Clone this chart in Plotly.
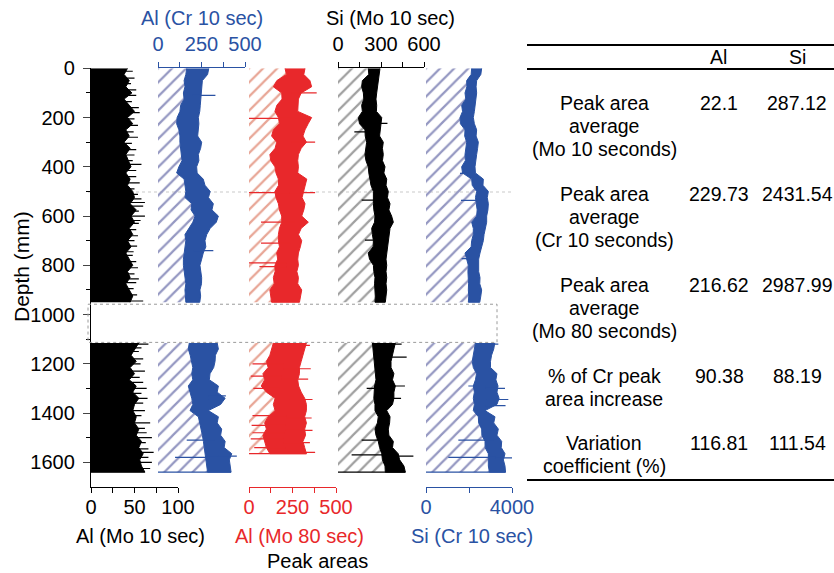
import plotly.graph_objects as go

W, H = 834, 573

# ---------------- data ----------------
DEPTH_UP = [0, 25, 50, 75, 100, 125, 150, 175, 200, 225, 250, 275, 300, 325, 350, 375, 400, 425, 450, 475,
            500, 525, 550, 575, 600, 625, 650, 675, 700, 725, 750, 775, 800, 825, 850, 875, 900, 925, 950]
DEPTH_LOW = [1115, 1140, 1165, 1190, 1215, 1240, 1265, 1290, 1315, 1340, 1365, 1390, 1415, 1440, 1465,
             1490, 1515, 1540, 1565, 1590, 1615, 1640]
DEPTH_LOW_RED = [1115, 1140, 1165, 1190, 1215, 1240, 1265, 1290, 1315, 1340, 1365, 1390, 1415, 1440, 1465,
                 1490, 1515, 1540, 1565]
GAP = [958, 1113]
MARK_DEPTH = 502

# Al (Mo 10 sec) - outer edge of black area
ALMO10_UP = [42, 38, 44, 40, 47, 38, 44, 50, 42, 48, 40, 44, 38, 45, 40, 43, 46, 40, 45, 42,
             48, 50, 45, 52, 46, 50, 44, 48, 42, 46, 40, 44, 48, 42, 45, 40, 44, 48, 45]
ALMO10_LOW = [55, 50, 46, 52, 45, 50, 44, 52, 48, 55, 50, 48, 52, 50, 55, 52, 58, 55, 60, 56, 58, 62]
ALMO10_SPK_D = [12, 40, 62, 88, 110, 135, 160, 180, 205, 232, 258, 280, 305, 330, 352, 375, 390, 415, 440,
                465, 490, 512, 530, 545, 560, 580, 600, 618, 630, 655, 680, 700, 722, 745, 760, 785, 810,
                835, 855, 870, 895, 920, 945,
                1120, 1135, 1150, 1180, 1200, 1230, 1255, 1275, 1300, 1320, 1340, 1360, 1390, 1410, 1440,
                1462, 1480, 1500, 1520, 1545, 1560, 1580, 1600, 1625]
ALMO10_SPK_V = [48, 50, 46, 52, 52, 47, 55, 56, 50, 54, 49, 54, 47, 52, 50, 48, 58, 52, 52,
                56, 50, 54, 58, 62, 60, 55, 62, 57, 55, 52, 54, 50, 53, 49, 48, 52, 54,
                50, 55, 52, 49, 53, 60,
                66, 58, 55, 60, 57, 62, 56, 60, 64, 58, 65, 60, 62, 58, 68,
                62, 64, 70, 63, 66, 72, 66, 70, 68]

# Al (Cr 10 sec) - band low / high
ALCR_UP_LO = [165, 160, 150, 155, 146, 150, 130, 126, 110, 107, 120, 126, 126, 130, 136, 138, 120, 107, 150, 155,
              160, 155, 194, 190, 213, 200, 175, 155, 160, 155, 150, 146, 146, 150, 155, 160, 155, 158, 160]
ALCR_UP_HI = [292, 285, 255, 250, 251, 245, 243, 240, 232, 235, 232, 228, 251, 245, 232, 235, 222, 225, 260, 270,
              300, 290, 318, 310, 347, 335, 300, 280, 270, 275, 260, 251, 241, 245, 251, 250, 241, 245, 240]
ALCR_LOW_LO = [180, 174, 185, 194, 200, 194, 200, 174, 185, 194, 200, 184, 232, 240, 251, 255, 261, 265, 270, 275, 280, 285]
ALCR_LOW_HI = [340, 347, 330, 328, 320, 299, 295, 347, 340, 386, 360, 289, 347, 340, 366, 360, 386, 380, 424, 410, 414, 420]
ALCR_SPK_D = [110, 740, 1330, 1345, 1510, 1575, 1580]
ALCR_SPK_V = [330, 318, 390, 380, 165, 453, 98]

# Al (Mo 80 sec)
RED_UP_LO = [207, 215, 160, 140, 188, 190, 160, 149, 169, 175, 140, 130, 159, 150, 120, 125, 149, 155, 169, 170,
             149, 155, 169, 175, 188, 188, 175, 169, 169, 175, 159, 165, 149, 150, 140, 145, 120, 125, 130]
RED_UP_HI = [322, 315, 350, 360, 300, 284, 284, 280, 360, 340, 322, 310, 330, 300, 284, 280, 284, 280, 332, 320,
             313, 305, 322, 315, 303, 341, 300, 284, 303, 295, 284, 280, 284, 275, 284, 280, 303, 295, 290]
RED_LOW_LO = [140, 130, 120, 100, 110, 80, 90, 70, 100, 150, 140, 150, 110, 90, 100, 80, 90, 100, 120]
RED_LOW_HI = [330, 320, 310, 300, 290, 290, 280, 285, 300, 320, 330, 330, 320, 330, 320, 325, 310, 320, 330]
RED_SPK_D = [100, 203, 300, 505, 505, 625, 710, 790, 805,
             1125, 1200, 1220, 1250, 1262, 1300, 1345, 1410, 1420, 1450, 1470, 1480, 1505, 1520, 1540, 1560]
RED_SPK_V = [389, 0, 380, 0, 380, 69, 69, 0, 60,
             350, 20, 355, 10, 340, 25, 365, 20, 360, 15, 365, 20, 10, 350, 30, 380]

# Si (Mo 10 sec)
SIMO_UP_LO = [211, 215, 170, 165, 177, 180, 165, 170, 142, 150, 188, 190, 200, 195, 188, 195, 211, 215, 223, 230,
              247, 245, 247, 250, 258, 255, 235, 240, 247, 245, 211, 220, 247, 250, 258, 255, 258, 260, 258]
SIMO_UP_HI = [293, 290, 281, 275, 270, 265, 270, 268, 305, 300, 293, 290, 316, 310, 316, 310, 328, 320, 340, 335,
              351, 345, 363, 355, 374, 386, 363, 355, 351, 345, 340, 335, 340, 335, 340, 335, 340, 335, 330]
SIMO_LOW_LO = [240, 245, 250, 250, 255, 265, 265, 255, 255, 250, 258, 258, 281, 275, 258, 265, 281, 290, 305, 310, 328, 330]
SIMO_LOW_HI = [400, 390, 380, 370, 370, 390, 380, 400, 390, 390, 380, 340, 363, 360, 351, 355, 386, 380, 420, 430, 460, 470]
SIMO_SPK_D = [224, 258, 535, 698, 1120, 1173, 1290, 1300, 1340, 1510, 1570, 1575]
SIMO_SPK_V = [345, 114, 165, 188, 444, 479, 467, 200, 440, 165, 95, 526]

# Si (Cr 10 sec)
SICR_UP_LO = [2124, 2100, 1891, 1900, 1814, 1850, 1659, 1700, 1581, 1600, 1814, 1800, 1891, 1850, 1814, 1830, 1659, 1700, 2124, 2150,
              2356, 2300, 2356, 2380, 2356, 2124, 2201, 2200, 2124, 2100, 1814, 1900, 1969, 1950, 1969, 1980, 1969, 1990, 1969]
SICR_UP_HI = [2589, 2550, 2356, 2330, 2356, 2300, 2279, 2250, 2201, 2250, 2356, 2330, 2434, 2400, 2356, 2300, 2279, 2300, 2667, 2650,
              2900, 2850, 2900, 2880, 2822, 2822, 2744, 2700, 2667, 2600, 2512, 2450, 2434, 2450, 2512, 2500, 2589, 2550, 2500]
SICR_LOW_LO = [2300, 2250, 2200, 2150, 2200, 2350, 2300, 2200, 2250, 2200, 2250, 2201, 2434, 2450, 2589, 2600, 2744, 2750, 2900, 2900, 2900, 2950]
SICR_LOW_HI = [3200, 3150, 3050, 3000, 3000, 3300, 3250, 3350, 3300, 3400, 3300, 2744, 3209, 3150, 3364, 3300, 3519, 3500, 3674, 3600, 3674, 3700]
SICR_SPK_D = [427, 536, 773, 1120, 1290, 1300, 1345, 1370, 1510, 1580, 1582]
SICR_SPK_V = [1581, 1628, 1659, 3364, 1969, 3674, 3829, 3700, 1504, 1038, 4194]

TABLE_COLS = ["Al", "Si"]
TABLE_ROWS = [["Peak area", "average", "(Mo 10 seconds)"],
              ["Peak area", "average", "(Cr 10 seconds)"],
              ["Peak area", "average", "(Mo 80 seconds)"],
              ["% of Cr peak", "area increase"],
              ["Variation", "coefficient (%)"]]
TABLE_AL = ["22.1", "229.73", "216.62", "90.38", "116.81"]
TABLE_SI = ["287.12", "2431.54", "2987.99", "88.19", "111.54"]

# ---------------- styling ----------------
FONT = "Arial, Liberation Sans, Helvetica, sans-serif"
BLUE = "#2a52a3"
RED = "#e8282b"
BLACK = "#000000"
HATCH_BLUE = "#9598c2"
HATCH_RED = "#e8a696"
HATCH_GRAY = "#a0a0a0"
FS = 20
TS = 19.5


def px(x):
    return x / W


def py(y):
    return 1 - y / H


fig = go.Figure()


def hatch_pattern(c):
    return dict(shape="/", fgcolor=c, size=10, solidity=0.22)


def add_band(xa, depth, lo, hi, color, hatch):
    fig.add_trace(go.Scatter(x=lo, y=depth, xaxis=xa, yaxis="y", mode="lines",
                             line=dict(width=0, color=hatch), fill="tozerox",
                             fillcolor="rgba(0,0,0,0)", fillpattern=hatch_pattern(hatch),
                             hoverinfo="skip", showlegend=False))
    fig.add_trace(go.Scatter(x=list(lo) + list(hi)[::-1], y=list(depth) + list(depth)[::-1],
                             xaxis=xa, yaxis="y", mode="lines", fill="toself", fillcolor=color,
                             line=dict(width=1, color=color), hoverinfo="skip", showlegend=False))


def add_spikes(xa, sections, spk_d, spk_v, color, from_zero=False):
    xs, ys = [], []
    for d, v in zip(spk_d, spk_v):
        if from_zero:
            start = 0
        else:
            best = None
            for depth, lo, hi in sections:
                for i, dd in enumerate(depth):
                    if best is None or abs(dd - d) < best[0]:
                        best = (abs(dd - d), (lo[i] + hi[i]) / 2)
            start = best[1]
        xs += [start, v, None]
        ys += [d, d, None]
    depth, lo, hi = sections[-1]
    xs += [0, hi[-1], None]
    ys += [depth[-1], depth[-1], None]
    fig.add_trace(go.Scatter(x=xs, y=ys, xaxis=xa, yaxis="y", mode="lines",
                             line=dict(width=1.2, color=color), hoverinfo="skip", showlegend=False))


for depth, vals in [(DEPTH_UP, ALMO10_UP), (DEPTH_LOW, ALMO10_LOW)]:
    fig.add_trace(go.Scatter(x=vals, y=depth, xaxis="x", yaxis="y", mode="lines",
                             line=dict(width=1, color=BLACK), fill="tozerox", fillcolor=BLACK,
                             hoverinfo="skip", showlegend=False))
add_spikes("x", [(DEPTH_UP, ALMO10_UP, ALMO10_UP), (DEPTH_LOW, ALMO10_LOW, ALMO10_LOW)],
           ALMO10_SPK_D, ALMO10_SPK_V, BLACK, from_zero=True)

series = [
    ("x2", [(DEPTH_UP, ALCR_UP_LO, ALCR_UP_HI), (DEPTH_LOW, ALCR_LOW_LO, ALCR_LOW_HI)], ALCR_SPK_D, ALCR_SPK_V, BLUE, HATCH_BLUE),
    ("x3", [(DEPTH_UP, RED_UP_LO, RED_UP_HI), (DEPTH_LOW_RED, RED_LOW_LO, RED_LOW_HI)], RED_SPK_D, RED_SPK_V, RED, HATCH_RED),
    ("x4", [(DEPTH_UP, SIMO_UP_LO, SIMO_UP_HI), (DEPTH_LOW, SIMO_LOW_LO, SIMO_LOW_HI)], SIMO_SPK_D, SIMO_SPK_V, BLACK, HATCH_GRAY),
    ("x5", [(DEPTH_UP, SICR_UP_LO, SICR_UP_HI), (DEPTH_LOW, SICR_LOW_LO, SICR_LOW_HI)], SICR_SPK_D, SICR_SPK_V, BLUE, HATCH_BLUE),
]
for xa, secs, sd, sv, col, hat in series:
    for depth, lo, hi in secs:
        add_band(xa, depth, lo, hi, col, hat)
    add_spikes(xa, secs, sd, sv, col)


def xaxis(dom, rng, side, color, tickvals, ticktext):
    return dict(domain=[px(dom[0]), px(dom[1])], range=rng, anchor="y", side=side,
                showline=True, linecolor=color, linewidth=1.3, ticks="outside", ticklen=5,
                tickwidth=1.3, tickcolor=color, tickvals=tickvals, ticktext=ticktext,
                tickfont=dict(size=FS, color=color, family=FONT), showgrid=False, zeroline=False,
                ticklabelstandoff=(3 if side == "top" else -3), automargin=False, fixedrange=True)


fig.update_layout(
    template="none",
    width=W, height=H, autosize=False,
    margin=dict(l=0, r=0, t=0, b=0, pad=0, autoexpand=False),
    paper_bgcolor="white", plot_bgcolor="rgba(0,0,0,0)",
    font=dict(family=FONT, size=FS, color="black"),
    showlegend=False,
    xaxis=xaxis((91, 178), [0, 100], "bottom", BLACK, [0, 25, 50, 75, 100], ["0", "", "50", "", "100"]),
    xaxis2=xaxis((158, 245), [0, 500], "top", BLUE, [0, 125, 250, 375, 500], ["0", "", "250", "", "500"]),
    xaxis3=xaxis((249, 336), [0, 500], "bottom", RED, [0, 125, 250, 375, 500], ["0", "", "250", "", "500"]),
    xaxis4=xaxis((338, 424), [0, 600], "top", BLACK, [0, 150, 300, 450, 600], ["0", "", "300", "", "600"]),
    xaxis5=xaxis((426, 512), [0, 4000], "bottom", BLUE, [0, 2000, 4000], ["0", "", "4000"]),
    yaxis=dict(domain=[py(486.7), py(68.3)], range=[1699, 0], anchor="x", showline=True,
               linecolor=BLACK, linewidth=1.3, ticks="outside", ticklen=7, tickwidth=1.3,
               tick0=0, dtick=200, tickfont=dict(size=20, color=BLACK, family=FONT),
               minor=dict(ticks="outside", ticklen=4, tickwidth=1.2, tickcolor=BLACK, dtick=100),
               showgrid=False, zeroline=False, ticklabelstandoff=4, automargin=False, fixedrange=True),
)

fig.add_shape(type="rect", xref="paper", yref="y", x0=px(88), x1=px(497), y0=GAP[0], y1=GAP[1],
              line=dict(color="#9a9a9a", width=1, dash="dot"), fillcolor="rgba(0,0,0,0)")
fig.add_shape(type="line", xref="paper", yref="y", x0=px(88), x1=px(512), y0=MARK_DEPTH, y1=MARK_DEPTH,
              line=dict(color="#dcdcdc", width=1.5, dash="dot"), layer="below")

ann = []


def text(x, y, s, color="black", size=FS, angle=0, xanchor="center"):
    ann.append(dict(x=px(x), y=py(y), xref="paper", yref="paper", text=s, showarrow=False,
                    font=dict(size=size, color=color, family=FONT), textangle=angle,
                    xanchor=xanchor, yanchor="middle"))


text(202, 18, "Al (Cr 10 sec)", BLUE)
text(390, 18, "Si (Mo 10 sec)", BLACK)
text(140, 536, "Al (Mo 10 sec)", BLACK)
text(299, 536, "Al (Mo 80 sec)", RED)
text(472, 536, "Si (Cr 10 sec)", BLUE)
text(317, 561, "Peak areas", BLACK)
text(21, 267, "Depth (mm)", BLACK, size=21, angle=-90)

for yy in (45, 69, 480):
    fig.add_shape(type="line", xref="paper", yref="paper", x0=px(527), x1=1, y0=py(yy), y1=py(yy),
                  line=dict(color="black", width=2))
text(718, 57, TABLE_COLS[0], size=TS)
text(797, 57, TABLE_COLS[1], size=TS)
row_first = [103, 194, 285, 376, 443]
for r, lines in enumerate(TABLE_ROWS):
    for k, line in enumerate(lines):
        text(604, row_first[r] + 23 * k, line, size=TS)
    text(719, row_first[r], TABLE_AL[r], size=TS)
    text(797, row_first[r], TABLE_SI[r], size=TS)

fig.update_layout(annotations=ann)
fig.write_html("out.html")
